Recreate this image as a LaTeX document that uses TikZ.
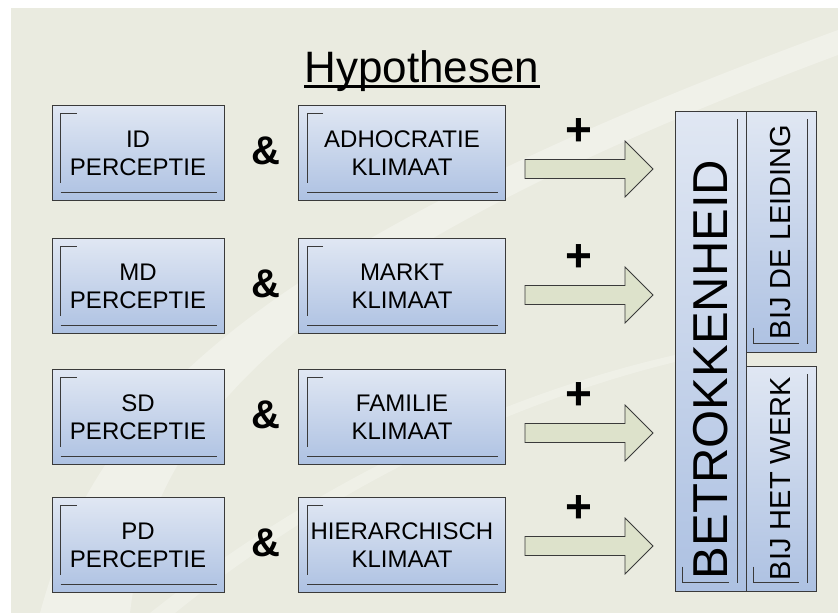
\documentclass[tikz,border=0pt]{standalone}
\usepackage{fontspec}
\setmainfont{Liberation Sans}
\usetikzlibrary{calc}
\definecolor{slide}{HTML}{EAEBE0}
\definecolor{boxtop}{HTML}{E0E7F3}
\definecolor{boxbot}{HTML}{ADC1E2}
\definecolor{arrowfill}{HTML}{DDE2CB}
\definecolor{edge}{HTML}{3A3A3A}
% inner lines of a box, in the box's own frame
\newcommand\boxlines[1]{
 \draw[innerline] ($($(#1.north west)!25pt!(#1.north east)$)!8pt!($(#1.south west)!25pt!(#1.south east)$)$)
  -- ($($(#1.north west)!9pt!(#1.north east)$)!8pt!($(#1.south west)!9pt!(#1.south east)$)$)
  -- ($($(#1.south west)!9pt!(#1.south east)$)!18pt!($(#1.north west)!9pt!(#1.north east)$)$);
 \draw[innerline] ($($(#1.south west)!9pt!(#1.south east)$)!9pt!($(#1.north west)!9pt!(#1.north east)$)$)
  -- ($($(#1.south east)!8pt!(#1.south west)$)!9pt!($(#1.north east)!8pt!(#1.north west)$)$);
}
\begin{document}
\begin{tikzpicture}[x=1pt,y=-1pt,
 hbox/.style={draw=edge,line width=1pt,top color=boxtop,bottom color=boxbot,minimum height=95pt,
  inner sep=0pt,align=center,font=\fontsize{24}{28}\selectfont},
 vbox/.style={hbox,rotate=90},
 innerline/.style={draw=edge,line width=.8pt},
 blockarrow/.style={draw=edge,line width=.8pt,fill=arrowfill},
 amp/.style={font=\bfseries\fontsize{40}{40}\selectfont},
 plus/.style={font=\bfseries\fontsize{46}{46}\selectfont}]
\useasboundingbox (0,0) rectangle (838,615);
\fill[white] (0,0) rectangle (838,615);
\fill[slide] (11,8) rectangle (838,613);
\fill[white,opacity=.3] (40,613) .. controls (90,430) and (210,260) .. (838,30)
  -- (838,55) .. controls (260,270) and (150,440) .. (130,613) -- cycle;
\fill[white,opacity=.25] (150,613) .. controls (330,470) and (520,390) .. (675,355)
  -- (675,362) .. controls (520,400) and (340,480) .. (175,613) -- cycle;
\node[anchor=base,inner sep=0pt,font=\fontsize{44}{48}\selectfont] (title) at (422,83) {Hypothesen};
\draw[line width=2.5pt] ([yshift=-3.5pt]title.base west) -- ([yshift=-3.5pt]title.base east);
\foreach \y/\a/\p/\k/\n in {153/169/ID/ADHOCRATIE/1,286/295/MD/MARKT/2,417/433/SD/FAMILIE/3,545/546/PD/HIERARCHISCH/4}
{
 \node[hbox,minimum width=172pt] (perc\n) at (138,\y) {\p\\PERCEPTIE};
 \boxlines{perc\n}
 \node[amp] (amp\n) at (266,\y-2) {\&};
 \node[hbox,minimum width=207pt] (klim\n) at (402,\y) {\k\\KLIMAAT};
 \boxlines{klim\n}
 \draw[blockarrow] (525,\a-9.5) -- (625,\a-9.5) -- (625,\a-28) -- (653,\a)
  -- (625,\a+28) -- (625,\a+9.5) -- (525,\a+9.5) -- cycle;
 \node[plus] (plus\n) at (579,\a-37) {+};
}
\node[vbox,minimum width=479pt,minimum height=71pt,text width=455pt,align=left,
 font=\fontsize{49}{50}\selectfont] (betr) at (710.5,351.5) {BETROKKENHEID};
\boxlines{betr}
\node[vbox,minimum width=240pt,minimum height=70pt,font=\fontsize{29}{30}\selectfont] (leiding) at (781,232) {BIJ DE LEIDING};
\boxlines{leiding}
\node[vbox,minimum width=225pt,minimum height=70pt,font=\fontsize{29}{30}\selectfont] (werk) at (781,478.5) {BIJ HET WERK};
\boxlines{werk}
\end{tikzpicture}
\end{document}
